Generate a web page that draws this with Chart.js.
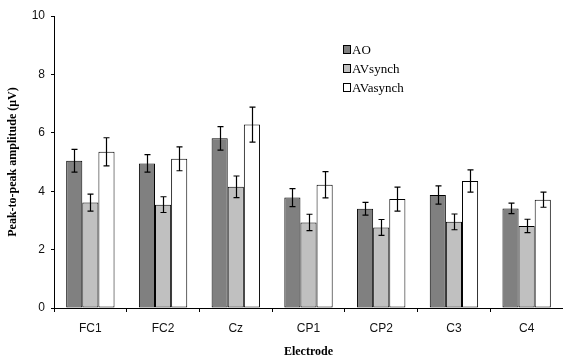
<!DOCTYPE html>
<html>
<head>
<meta charset="utf-8">
<script src="https://cdn.jsdelivr.net/npm/chart.js@4"></script>
<style>
  body { margin: 0; background: #fff; }
  #wrap { width: 563px; height: 359px; }
</style>
</head>
<body>
<div id="wrap"><canvas id="grafico" width="563" height="359"></canvas></div>
<script>
// electrodes and amplitudes (µV)
const eletrodos = ["FC1", "FC2", "Cz", "CP1", "CP2", "C3", "C4"];
const seriesNomes = ["AO", "AVsynch", "AVasynch"];
const ao       = [5.04, 4.95, 5.81, 3.78, 3.40, 3.87, 3.41];
const avSynch  = [3.61, 3.54, 4.15, 2.93, 2.76, 2.95, 2.81];
const avAsynch = [5.35, 5.11, 6.28, 4.22, 3.73, 4.35, 3.71];
// error bar half-lengths
const aoErr       = [0.39, 0.30, 0.40, 0.31, 0.22, 0.31, 0.18];
const avSynchErr  = [0.29, 0.27, 0.37, 0.28, 0.27, 0.27, 0.23];
const avAsynchErr = [0.48, 0.41, 0.60, 0.45, 0.41, 0.38, 0.26];
const yTicks = [0, 2, 4, 6, 8, 10];

const cores = ["#808080", "#c0c0c0", "#ffffff"];
const erros = [aoErr, avSynchErr, avAsynchErr];

// draws the +/- error bars on top of each bar
const barrasErro = {
    id: "barrasErro",
    afterDatasetsDraw(chart) {
        const ctx = chart.ctx;
        const y = chart.scales.y;
        ctx.save();
        ctx.strokeStyle = "#000";
        ctx.lineWidth = 1.2;
        chart.data.datasets.forEach((ds, d) => {
            const meta = chart.getDatasetMeta(d);
            meta.data.forEach((bar, i) => {
                const v = ds.data[i], e = erros[d][i];
                const x = Math.round(bar.x) + 0.5;
                const y1 = y.getPixelForValue(v + e);
                const y2 = y.getPixelForValue(v - e);
                ctx.beginPath();
                ctx.moveTo(x, y1); ctx.lineTo(x, y2);
                ctx.moveTo(x - 3, y1); ctx.lineTo(x + 3, y1);
                ctx.moveTo(x - 3, y2); ctx.lineTo(x + 3, y2);
                ctx.stroke();
            });
        });
        ctx.restore();
    }
};

// small legend inside the plot, like the original
const legendaInterna = {
    id: "legendaInterna",
    afterDraw(chart) {
        const ctx = chart.ctx;
        ctx.save();
        ctx.font = "13px 'Liberation Serif', 'Times New Roman', serif";
        ctx.textBaseline = "middle";
        chart.data.datasets.forEach((ds, d) => {
            const yy = 50 + d * 19;
            ctx.fillStyle = ds.backgroundColor;
            ctx.fillRect(343.5, yy - 4.5, 7, 8);
            ctx.strokeStyle = "#000";
            ctx.lineWidth = 1;
            ctx.strokeRect(343.5, yy - 4.5, 7, 8);
            ctx.fillStyle = "#000";
            ctx.fillText(ds.label, 352, yy + 0.5);
        });
        ctx.restore();
    }
};

const datasets = [ao, avSynch, avAsynch].map((vals, i) => ({
    label: seriesNomes[i],
    data: vals,
    backgroundColor: cores[i],
    borderColor: "#000",
    borderWidth: 1,
    borderSkipped: false,
    categoryPercentage: 0.665,
    barPercentage: 1
}));

new Chart(document.getElementById("grafico"), {
    type: "bar",
    data: { labels: eletrodos, datasets: datasets },
    plugins: [barrasErro, legendaInterna],
    options: {
        responsive: false,
        animation: false,
        layout: { padding: { top: 16, right: -3, left: 0, bottom: 0 } },
        plugins: {
            legend: { display: false },
            tooltip: { enabled: false }
        },
        scales: {
            x: {
                afterFit(s) { s.height = 51; },
                grid: { display: true, drawOnChartArea: false, drawTicks: true, tickLength: 4, color: "#000" },
                border: { color: "#000", width: 1 },
                ticks: { color: "#111", font: { family: "'Liberation Sans', Arial, sans-serif", size: 12 }, padding: 9, maxRotation: 0 },
                title: {
                    display: true,
                    text: "Electrode",
                    color: "#000",
                    font: { family: "'Liberation Serif', 'Times New Roman', serif", size: 12, weight: "bold" },
                    padding: 0
                }
            },
            y: {
                min: 0,
                max: 10,
                afterFit(s) { s.width = 54; },
                afterBuildTicks(s) { s.ticks = yTicks.map(v => ({ value: v })); },
                grid: { display: true, drawOnChartArea: false, drawTicks: true, tickLength: 3, color: "#000" },
                border: { color: "#000", width: 1 },
                ticks: { color: "#111", font: { family: "'Liberation Sans', Arial, sans-serif", size: 12 }, padding: 6 },
                title: {
                    display: true,
                    text: "Peak-to-peak amplitude (μV)",
                    color: "#000",
                    font: { family: "'Liberation Serif', 'Times New Roman', serif", size: 12, weight: "bold" },
                    padding: 6
                }
            }
        }
    }
});
</script>
</body>
</html>
